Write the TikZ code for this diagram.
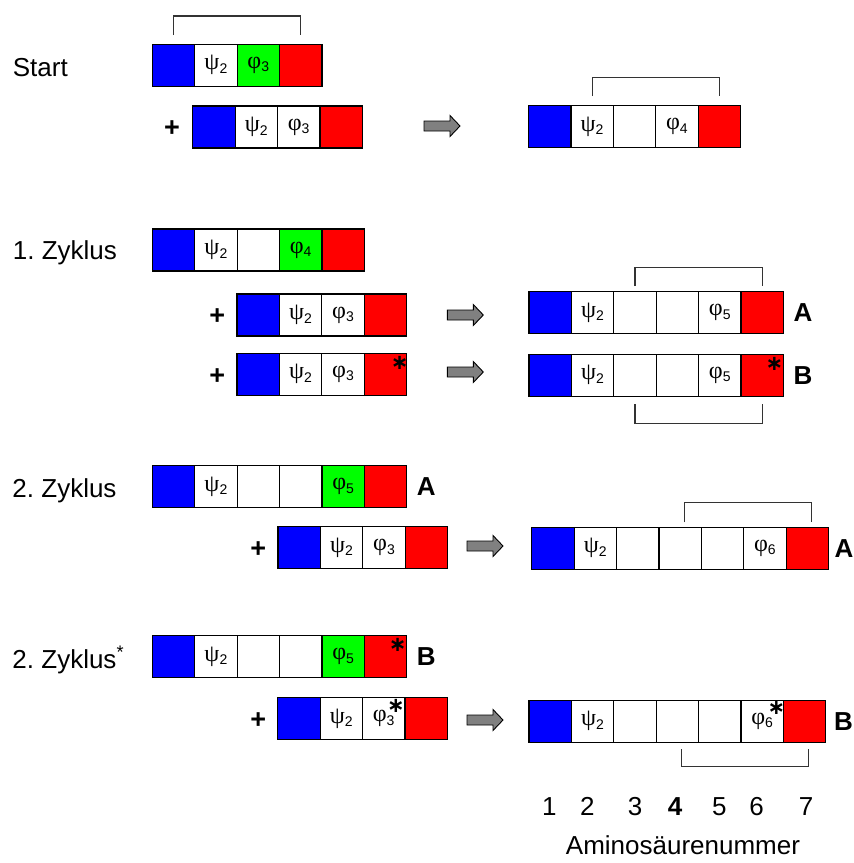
\documentclass[tikz,border=0pt]{standalone}
\usepackage{fontspec}
\setmainfont{Liberation Sans}
\newfontfamily\gk{Liberation Serif}
\newfontfamily\djv{DejaVu Sans}
\usetikzlibrary{positioning}

% Greek residue labels with a small index
\newcommand\subidx[1]{\raisebox{-3.5pt}{\fontsize{14}{14}\selectfont #1}}
\newcommand\gpsi[1]{{\fontsize{24}{24}\selectfont\gk ψ}\subidx{#1}}
\newcommand\gphi[1]{{\fontsize{24}{24}\selectfont\gk φ}\subidx{#1}}

\tikzset{
  cellbox/.style={draw=black, line width=1.2pt, minimum width=42.4pt, minimum height=42pt,
                  inner sep=0pt, outer sep=0pt, fill=white},
  bluec/.style={cellbox, fill=blue},
  redc/.style={cellbox, fill=red},
  greenc/.style={cellbox, fill=green},
  whitec/.style={cellbox, fill=white},
  nx/.style={right=0pt of #1},
  lbl/.style={font=\fontsize{26}{30}\selectfont, inner sep=0pt},
  tag/.style={font=\fontsize{26}{30}\selectfont\bfseries, inner sep=0pt, anchor=west},
  plussign/.style={font=\fontsize{27}{30}\selectfont\bfseries, inner sep=0pt},
  astr/.style={font=\fontsize{21}{21}\selectfont\djv\bfseries, inner sep=0pt, anchor=north},
  brk/.style={draw=black!80, line width=1.1pt},
  blockarrow/.style={draw=black, fill=black!50, line width=0.9pt, line join=miter},
}
% gray block arrow centred on a named coordinate
\newcommand\blockarr[1]{%
  \draw[blockarrow] (#1) ++(-18,-5) -- ++(26,0) -- ++(0,-5.5) -- ++(10,10.5)
    -- ++(-10,10.5) -- ++(0,-5.5) -- ++(-26,0) -- cycle;}

\begin{document}
\frenchspacing
\begin{tikzpicture}[x=1pt, y=-1pt]
\useasboundingbox (0,0) rectangle (854,863);

% ---------------- Start ----------------
\node[lbl, anchor=base west] (lstart) at (12.7,76.5) {Start};
\node[bluec] (s1a) at (173.5,65.3) {};
\node[whitec, nx=s1a] (s1b) {\gpsi{2}};
\node[greenc, nx=s1b] (s1c) {\gphi{3}};
\node[redc, nx=s1c] (s1d) {};
\draw[brk] ([yshift=9.3pt]s1a.north) |- ([yshift=28.3pt]s1d.north) -- ([yshift=9.3pt]s1d.north);

\node[plussign] (p0) at (172,129) {+};
\node[bluec] (s2a) at (213.9,127) {};
\node[whitec, nx=s2a] (s2b) {\gpsi{2}};
\node[whitec, nx=s2b] (s2c) {\gphi{3}};
\node[redc, nx=s2c] (s2d) {};

\coordinate (ar0) at (442,126);
\blockarr{ar0}

\node[bluec] (spa) at (549.7,126.7) {};
\node[whitec, nx=spa] (spb) {\gpsi{2}};
\node[whitec, nx=spb] (spc) {};
\node[whitec, nx=spc] (spd) {\gphi{4}};
\node[redc, nx=spd] (spe) {};
\draw[brk] ([yshift=9.7pt]spb.north) |- ([yshift=28.4pt]spe.north) -- ([yshift=9.7pt]spe.north);

% ---------------- 1. Zyklus ----------------
\node[lbl, anchor=base west] (lz1) at (12.7,259.5) {1. Zyklus};
\node[bluec] (z1a) at (173.5,250) {};
\node[whitec, nx=z1a] (z1b) {\gpsi{2}};
\node[whitec, nx=z1b] (z1c) {};
\node[greenc, nx=z1c] (z1d) {\gphi{4}};
\node[redc, nx=z1d] (z1e) {};

\node[plussign] (p1) at (217.3,317) {+};
\node[bluec] (q1a) at (258.2,315) {};
\node[whitec, nx=q1a] (q1b) {\gpsi{2}};
\node[whitec, nx=q1b] (q1c) {\gphi{3}};
\node[redc, nx=q1c] (q1d) {};

\node[plussign] (p2) at (217.3,376.5) {+};
\node[bluec] (r1a) at (258.2,374.3) {};
\node[whitec, nx=r1a] (r1b) {\gpsi{2}};
\node[whitec, nx=r1b] (r1c) {\gphi{3}};
\node[redc, nx=r1c] (r1d) {};
\node[astr] (r1s) at ([xshift=-7pt,yshift=-3pt]r1d.north east) {∗};

\coordinate (ar1) at (465.3,315);
\blockarr{ar1}
\coordinate (ar2) at (465.3,372);
\blockarr{ar2}

\node[bluec] (paa) at (550.2,312.7) {};
\node[whitec, nx=paa] (pab) {\gpsi{2}};
\node[whitec, nx=pab] (pac) {};
\node[whitec, nx=pac] (pad) {};
\node[whitec, nx=pad] (pae) {\gphi{5}};
\node[redc, nx=pae] (paf) {};
\node[tag] (ta1) at ([xshift=10pt]paf.east) {A};
\draw[brk] ([yshift=5.7pt]pac.north) |- ([yshift=24.4pt]paf.north) -- ([yshift=5.7pt]paf.north);

\node[bluec] (pba) at (550.2,375.3) {};
\node[whitec, nx=pba] (pbb) {\gpsi{2}};
\node[whitec, nx=pbb] (pbc) {};
\node[whitec, nx=pbc] (pbd) {};
\node[whitec, nx=pbd] (pbe) {\gphi{5}};
\node[redc, nx=pbe] (pbf) {};
\node[astr] (pbs) at ([xshift=-9pt,yshift=-3pt]pbf.north east) {∗};
\node[tag] (tb1) at ([xshift=10pt]pbf.east) {B};
\draw[brk] ([yshift=-8pt]pbc.south) |- ([yshift=-27.3pt]pbf.south) -- ([yshift=-8pt]pbf.south);

% ---------------- 2. Zyklus ----------------
\node[lbl, anchor=base west] (lz2) at (12.3,497) {2. Zyklus};
\node[bluec] (z2a) at (173.5,486.7) {};
\node[whitec, nx=z2a] (z2b) {\gpsi{2}};
\node[whitec, nx=z2b] (z2c) {};
\node[whitec, nx=z2c] (z2d) {};
\node[greenc, nx=z2d] (z2e) {\gphi{5}};
\node[redc, nx=z2e] (z2f) {};
\node[tag] (ta2) at ([xshift=10pt]z2f.east) {A};

\node[plussign] (p3) at (258.3,550) {+};
\node[bluec] (q2a) at (299.2,547.7) {};
\node[whitec, nx=q2a] (q2b) {\gpsi{2}};
\node[whitec, nx=q2b] (q2c) {\gphi{3}};
\node[redc, nx=q2c] (q2d) {};

\coordinate (ar3) at (485,546);
\blockarr{ar3}

\node[bluec] (p2a) at (552.9,548.3) {};
\node[whitec, nx=p2a] (p2b) {\gpsi{2}};
\node[whitec, nx=p2b] (p2c) {};
\node[whitec, nx=p2c] (p2d) {};
\node[whitec, nx=p2d] (p2e) {};
\node[whitec, nx=p2e] (p2f) {\gphi{6}};
\node[redc, nx=p2f] (p2g) {};
\node[tag] (ta3) at ([xshift=6pt]p2g.east) {A};
\draw[brk] ([xshift=4pt,yshift=5pt]p2d.north) |- ([xshift=4pt,yshift=24.6pt]p2g.north) -- ([xshift=4pt,yshift=5pt]p2g.north);

% ---------------- 2. Zyklus* ----------------
\node[lbl, anchor=base west] (lz3) at (12.3,668) {2. Zyklus\textsuperscript{*}};
\node[bluec] (z3a) at (173.5,656.7) {};
\node[whitec, nx=z3a] (z3b) {\gpsi{2}};
\node[whitec, nx=z3b] (z3c) {};
\node[whitec, nx=z3c] (z3d) {};
\node[greenc, nx=z3d] (z3e) {\gphi{5}};
\node[redc, nx=z3e] (z3f) {};
\node[astr] (z3s) at ([xshift=-9pt,yshift=-2pt]z3f.north east) {∗};
\node[tag] (tb2) at ([xshift=10pt]z3f.east) {B};

\node[plussign] (p4) at (258.3,721) {+};
\node[bluec] (q3a) at (298.9,718.7) {};
\node[whitec, nx=q3a] (q3b) {\gpsi{2}};
\node[whitec, nx=q3b] (q3c) {\gphi{3}};
\node[redc, nx=q3c] (q3d) {};
\node[astr] (q3s) at ([xshift=-9pt,yshift=-1pt]q3c.north east) {∗};

\coordinate (ar4) at (485,720);
\blockarr{ar4}

\node[bluec] (p3a) at (550.2,721.3) {};
\node[whitec, nx=p3a] (p3b) {\gpsi{2}};
\node[whitec, nx=p3b] (p3c) {};
\node[whitec, nx=p3c] (p3d) {};
\node[whitec, nx=p3d] (p3e) {};
\node[whitec, nx=p3e] (p3f) {\gphi{6}};
\node[redc, nx=p3f] (p3g) {};
\node[astr] (p3s) at ([xshift=-7pt,yshift=-1pt]p3f.north east) {∗};
\node[tag] (tb3) at ([xshift=8pt]p3g.east) {B};
\draw[brk] ([xshift=4pt,yshift=-6.7pt]p3d.south) |- ([xshift=4pt,yshift=-24.4pt]p3g.south) -- ([xshift=4pt,yshift=-6.7pt]p3g.south);

% ---------------- residue numbers ----------------
\tikzset{num/.style={lbl, anchor=base}}
\node[num] (n1) at (549.3,815) {1};
\node[num] (n2) at (587.3,815) {2};
\node[num] (n3) at (635,815) {3};
\node[num, font=\fontsize{26}{30}\selectfont\bfseries] (n4) at (675,815) {4};
\node[num] (n5) at (719.3,815) {5};
\node[num] (n6) at (756.7,815) {6};
\node[num] (n7) at (806,815) {7};
\node[lbl, anchor=base] (axis) at (683,854) {Aminosäurenummer};
\end{tikzpicture}
\end{document}
